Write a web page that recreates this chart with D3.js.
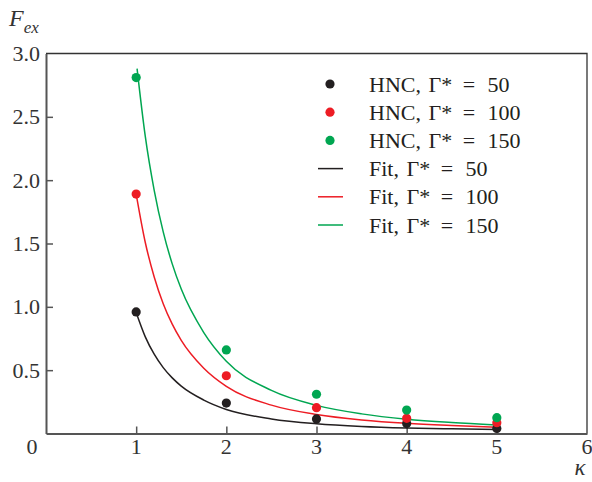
<!DOCTYPE html>
<html><head><meta charset="utf-8">
<script src="https://cdn.jsdelivr.net/npm/d3@7"></script>
<style>body{margin:0;background:#fff}</style>
</head><body>
<svg id="c" width="592" height="482"></svg>
<script>
const kappa = [1, 2, 3, 4, 5];
const hnc50  = [0.96, 0.24, 0.115, 0.078, 0.04];
const hnc100 = [1.89, 0.456, 0.204, 0.12, 0.085];
const hnc150 = [2.81, 0.66, 0.31, 0.185, 0.125];

const fitK    = [1, 1.1, 1.2, 1.3, 1.4, 1.5, 1.75, 2, 2.5, 3, 3.5, 4, 4.5, 5];
const fitK150 = [1.01, 1.1, 1.2, 1.3, 1.4, 1.5, 1.75, 2, 2.5, 3, 3.5, 4, 4.5, 5];
const fit50  = [0.955, 0.765, 0.626, 0.520, 0.439, 0.374, 0.264, 0.19, 0.115, 0.077, 0.056, 0.044, 0.037, 0.032];
const fit100 = [1.89, 1.512, 1.236, 1.025, 0.863, 0.735, 0.515, 0.372, 0.224, 0.150, 0.107, 0.080, 0.063, 0.05];
const fit150 = [2.88, 2.351, 1.92, 1.592, 1.339, 1.14, 0.797, 0.57, 0.34, 0.222, 0.155, 0.113, 0.087, 0.068];

const xTicks = [0, 1, 2, 3, 4, 5, 6];
const yTicks = [0.5, 1.0, 1.5, 2.0, 2.5, 3.0];
const yTickLabels = ["0.5", "1.0", "1.5", "2.0", "2.5", "3.0"];
const legendLabels = ["HNC, Γ* = 50", "HNC, Γ* = 100", "HNC, Γ* = 150", "Fit, Γ* = 50", "Fit, Γ* = 100", "Fit, Γ* = 150"];

const colors = ["#231f20", "#ed1c24", "#00a651"];
const serif = "'Liberation Serif', 'DejaVu Serif', serif";

const svg = d3.select("#c");
const x = d3.scaleLinear().domain([0, 6]).range([46, 587]);
const y = d3.scaleLinear().domain([0, 3]).range([433.5, 53.5]);

// frame top/right
svg.append("path")
  .attr("d", `M${x(0)},${y(3)}H${x(6)}V${y(0)}`)
  .attr("fill", "none").attr("stroke", "#333").attr("stroke-width", 1.3);

// axes
const xAxis = d3.axisBottom(x).tickValues(xTicks.slice(1, 6)).tickSizeInner(-7).tickSizeOuter(0).tickFormat("");
const gx = svg.append("g").attr("transform", `translate(0,${y(0)})`).call(xAxis);
gx.select(".domain").attr("stroke", "#555").attr("stroke-width", 2);
gx.selectAll(".tick line").attr("stroke", "#555").attr("stroke-width", 1.5);

const yAxis = d3.axisLeft(y).tickValues(yTicks.slice(0, 5)).tickSizeInner(-7).tickSizeOuter(0).tickFormat("");
const gy = svg.append("g").attr("transform", `translate(${x(0)},0)`).call(yAxis);
gy.select(".domain").attr("stroke", "#555").attr("stroke-width", 2);
gy.selectAll(".tick line").attr("stroke", "#555").attr("stroke-width", 1.5);

// tick labels
const lab = svg.append("g").attr("font-family", serif).attr("font-size", 22).attr("fill", "#333");
xTicks.forEach(t => {
  lab.append("text").attr("x", t === 0 ? 32 : x(t)).attr("y", 454).attr("text-anchor", "middle").text(String(t));
});
yTicks.forEach((t, i) => {
  lab.append("text").attr("x", 40).attr("y", y(t) + 7.5).attr("text-anchor", "end").text(yTickLabels[i]);
});

// axis titles
const ft = svg.append("text").attr("font-family", serif).attr("font-style", "italic").attr("fill", "#333")
  .attr("x", 9).attr("y", 26).attr("font-size", 24);
ft.append("tspan").text("F");
ft.append("tspan").attr("dy", 7).attr("font-size", 17).text("ex");
svg.append("text").attr("font-family", serif).attr("font-style", "italic").attr("fill", "#333")
  .attr("x", 580).attr("y", 475).attr("text-anchor", "middle").attr("font-size", 23).text("κ");

// fit curves
const line = d3.line().x(d => x(d[0])).y(d => y(d[1])).curve(d3.curveMonotoneX);
const fits = [[fitK, fit50], [fitK, fit100], [fitK150, fit150]];
fits.forEach(([ks, vs], i) => {
  svg.append("path").datum(ks.map((k, j) => [k, vs[j]]))
    .attr("d", line).attr("fill", "none").attr("stroke", colors[i]).attr("stroke-width", 1.5);
});

// points
[hnc50, hnc100, hnc150].forEach((vs, i) => {
  svg.append("g").selectAll("circle").data(kappa.map((k, j) => [k, vs[j]])).join("circle")
    .attr("cx", d => x(d[0])).attr("cy", d => y(d[1])).attr("r", 4.6).attr("fill", colors[i]);
});

// legend
const lg = svg.append("g");
const rowY = d3.scaleLinear().domain([0, 5]).range([84, 225]);
const gaps = [0, 2, 5, 7];
legendLabels.forEach((t, i) => {
  const yy = rowY(i);
  const c = colors[i % 3];
  if (i < 3) lg.append("circle").attr("cx", 330).attr("cy", yy).attr("r", 4.6).attr("fill", c);
  else lg.append("line").attr("x1", 318).attr("x2", 343).attr("y1", yy).attr("y2", yy).attr("stroke", c).attr("stroke-width", 1.5);
  const tx = lg.append("text").attr("x", 369).attr("y", yy + 7.5).attr("font-family", serif).attr("font-size", 22)
    .attr("fill", "#231f20");
  t.split(" ").forEach((tok, j) => {
    tx.append("tspan").attr("dx", gaps[j]).text((j ? " " : "") + tok);
  });
});
</script>
</body></html>
